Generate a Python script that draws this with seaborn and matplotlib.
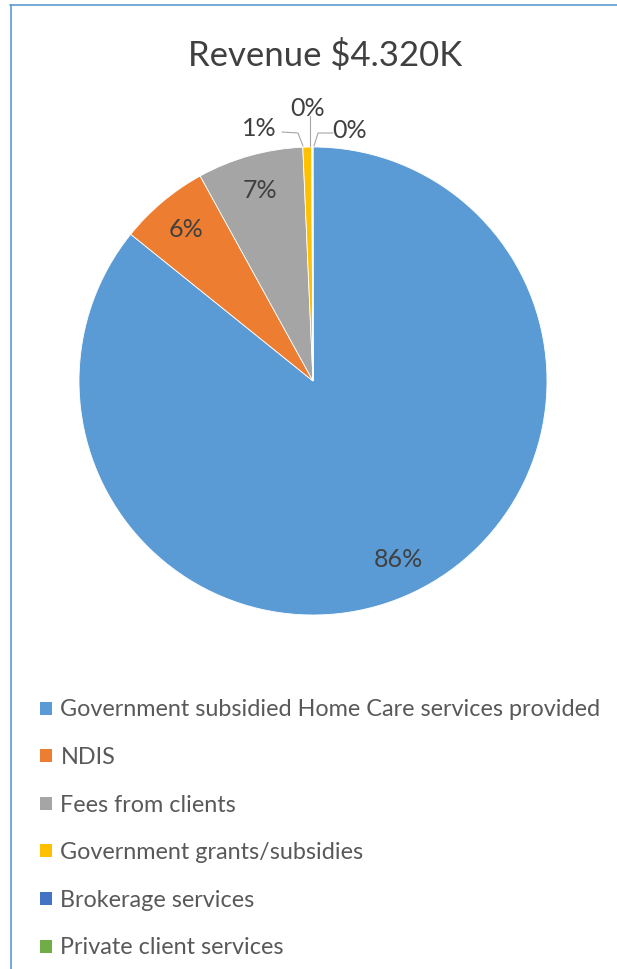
import matplotlib
matplotlib.use("Agg")
import matplotlib.pyplot as plt
import seaborn as sns
from matplotlib.lines import Line2D

categories = ["Government subsidied Home Care services provided", "NDIS",
              "Fees from clients", "Government grants/subsidies",
              "Brokerage services", "Private client services"]
values_k = [3706, 268, 316, 26, 3, 1]
title = "Revenue $4.320K"
colors = ["#5B9BD5", "#ED7D31", "#A5A5A5", "#FFC000", "#4472C4", "#70AD47"]

sns.set_style("white")
plt.rcParams['font.family'] = ['Lato', 'DejaVu Sans']

W, H = 617, 969
fig = plt.figure(figsize=(W / 100, H / 100), dpi=100)

# frame lines (chart border)
border = "#5B9BD5"
fig.add_artist(Line2D([10 / W, 1], [1 - 5 / H, 1 - 5 / H], color=border, lw=1.2, transform=fig.transFigure))
fig.add_artist(Line2D([11 / W, 11 / W], [0, 1 - 5 / H], color=border, lw=1.2, transform=fig.transFigure))

cx, cy, R = 313, 381, 234
ax = fig.add_axes([(cx - R) / W, 1 - (cy + R) / H, 2 * R / W, 2 * R / H])
total = sum(values_k)
pcts = [v / total * 100 for v in values_k]

def fmt(p):
    return f"{p:.0f}%" if p >= 2 else ""

lab_fs = 18
wedges, texts, autotexts = ax.pie(values_k, colors=colors, startangle=90, counterclock=False,
                                  autopct=fmt, pctdistance=0.845,
                                  wedgeprops=dict(edgecolor="white", linewidth=0.6),
                                  textprops=dict(color="#404040", fontsize=lab_fs))
ax.set_xlim(-1, 1)
ax.set_ylim(-1, 1)
ax.set_aspect("equal")
ax.axis("off")

# small-slice labels with leader lines (pixel coords -> axes data coords)
def to_data(px, py):
    return ((px - cx) / R, (cy - py) / R)

small = [(3, (259, 129), [(282, 132), (298, 133), (303, 146)]),
         (4, (308, 108), [(310, 116), (310, 146)]),
         (5, (350, 130), [(333, 133), (318, 133), (314, 146)])]
for idx, (tx, ty), pts in small:
    x, y = to_data(tx, ty)
    ax.text(x, y, f"{pcts[idx]:.0f}%", color="#404040", fontsize=lab_fs, ha="center", va="center")
    xs, ys = zip(*[to_data(a, b) for a, b in pts])
    ax.plot(xs, ys, color="#A6A6A6", lw=0.8, clip_on=False)

fig.text(325 / W, 1 - 56 / H, title, ha="center", va="center", fontsize=25, color="#404040")

leg = fig.legend(wedges, categories, loc="upper left", bbox_to_anchor=(31 / W, 1 - 690 / H),
                 frameon=False, fontsize=16.8, handlelength=0.48, handleheight=0.48,
                 handletextpad=0.38, labelspacing=1.14, labelcolor="#595959", borderaxespad=0)
for h in leg.legend_handles:
    h.set_edgecolor("none")

fig.savefig("out.png", dpi=100)
